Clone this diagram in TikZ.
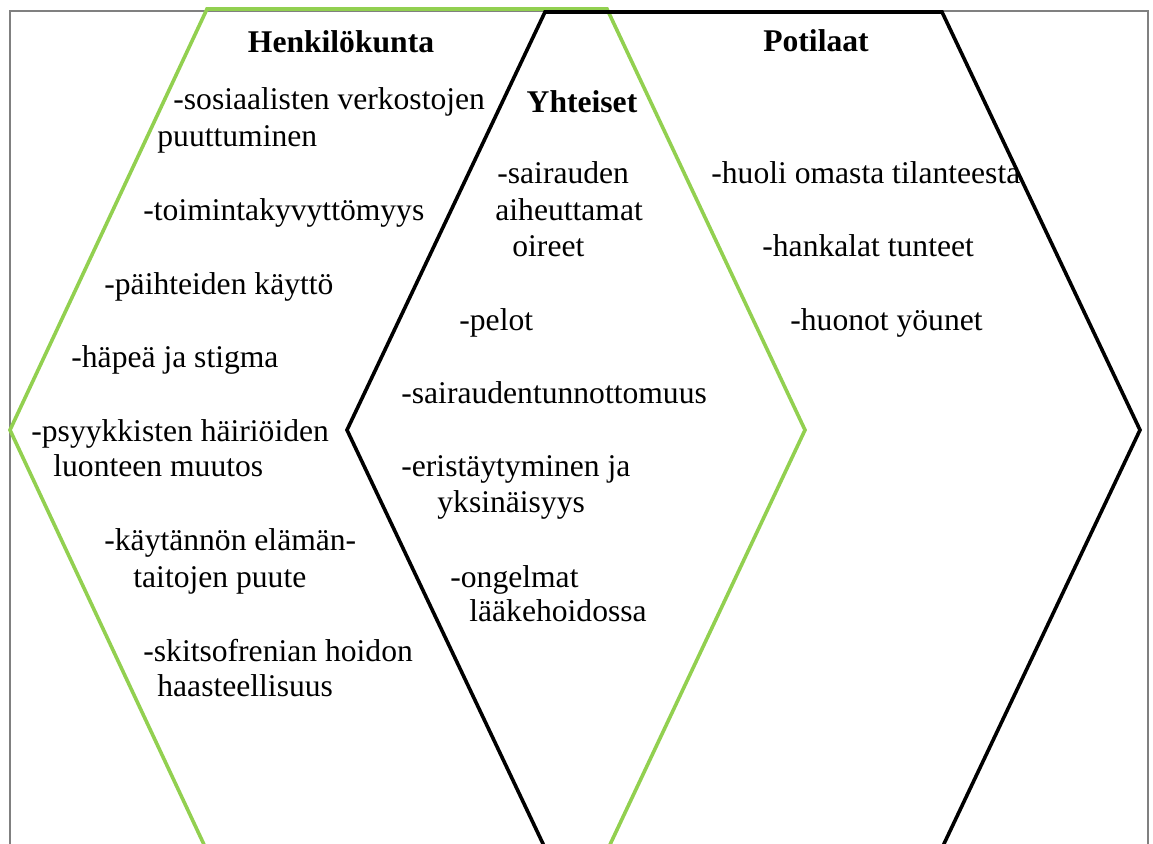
\documentclass[tikz,border=0pt]{standalone}
\usepackage{fontspec}
\setmainfont{Liberation Serif}
\definecolor{hexgreen}{RGB}{146,208,80}
\tikzset{
  item/.style={anchor=west,inner sep=0pt,text height=0.7em,text depth=0.25em,
    yshift=-2.5pt,font=\fontsize{15.8}{18.5}\selectfont},
  head/.style={item,anchor=center,font=\fontsize{15.8}{18.5}\selectfont\bfseries},
}

\begin{document}
\begin{tikzpicture}[x=0.5pt,y=-0.5pt]
        \useasboundingbox (0,0) rectangle (1153,844);

        % Frame
        \draw [gray,line width=0.75pt] (10,844) -- (10,11) -- (1148,11) -- (1148,844);

        % Outlines
        \begin{scope}
        \clip (0,0) rectangle (1153,844);
        \draw [hexgreen,line width=1.8pt] (207,9) -- (607,9) -- (805,430) --
            (607,851) -- (207,851) -- (10,430) -- cycle;
        \draw [black,line width=1.8pt] (545,12) -- (942,12) -- (1140,430) --
            (942,848) -- (545,848) -- (347,430) -- cycle;
        \end{scope}

        % Headings
        \node [head] (staff) at (341,43) {Henkilökunta};
        \node [head] (patients) at (816,42) {Potilaat};
        \node [head] (common) at (582,103) {Yhteiset};

        % Henkilökunta
        \node [item] (s1a) at (173,100) {-sosiaalisten verkostojen};
        \node [item] (s1b) at (157,137) {puuttuminen};
        \node [item] (s2) at (143,211) {-toimintakyvyttömyys};
        \node [item] (s3) at (104,285) {-päihteiden käyttö};
        \node [item] (s4) at (71,358) {-häpeä ja stigma};
        \node [item] (s5a) at (31,432) {-psyykkisten häiriöiden};
        \node [item] (s5b) at (53,467) {luonteen muutos};
        \node [item] (s6a) at (104,541) {-käytännön elämän-};
        \node [item] (s6b) at (133,578) {taitojen puute};
        \node [item] (s7a) at (143,652) {-skitsofrenian hoidon};
        \node [item] (s7b) at (157,687) {haasteellisuus};

        % Yhteiset
        \node [item] (c1a) at (497,174) {-sairauden};
        \node [item] (c1b) at (495,211) {aiheuttamat};
        \node [item] (c1c) at (512,247) {oireet};
        \node [item] (c2) at (459,321) {-pelot};
        \node [item] (c3) at (401,394) {-sairaudentunnottomuus};
        \node [item] (c4a) at (401,467) {-eristäytyminen ja};
        \node [item] (c4b) at (437,503) {yksinäisyys};
        \node [item] (c5a) at (450,578) {-ongelmat};
        \node [item] (c5b) at (469,612) {lääkehoidossa};

        % Potilaat
        \node [item] (p1) at (711,174) {-huoli omasta tilanteesta};
        \node [item] (p2) at (762,247) {-hankalat tunteet};
        \node [item] (p3) at (790,321) {-huonot yöunet};
\end{tikzpicture}
\end{document}
